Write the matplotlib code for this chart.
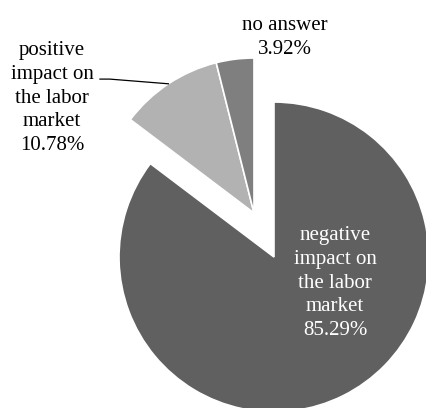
import numpy as np
import matplotlib
matplotlib.use('Agg')
import matplotlib.pyplot as plt

# Survey shares (percent), clockwise from 12 o'clock
categories = ['negative impact on\nthe labor\nmarket', 'positive\nimpact on\nthe labor\nmarket', 'no answer']
shares = [85.29, 10.78, 3.92]
colors = ['#606060', '#b2b2b2', '#7f7f7f']

plt.rcParams['font.family'] = ['Liberation Serif', 'DejaVu Serif']

fig = plt.figure(figsize=(4.26, 4.08), dpi=100)
ax = fig.add_axes([0, 0, 1, 1])

wedges, _ = ax.pie(shares, colors=colors, startangle=90, counterclock=False,
                   radius=1.0, wedgeprops=dict(edgecolor='white', linewidth=1.2))

# the two small slices are pulled out together
offset = np.array([-0.129, 0.284])
for w in wedges[1:]:
    w.set_center(tuple(offset))

ax.set_xlim(-1.768, 0.981)
ax.set_ylim(-0.974, 1.658)
ax.set_aspect('equal')
ax.axis('off')

fs = 15
ls = 1.35
ax.text(0.394, -0.168, 'negative\nimpact on\nthe labor\nmarket\n%.2f%%' % shares[0],
        ha='center', va='center', color='white', fontsize=fs, linespacing=ls)
ax.text(-1.432, 1.026, categories[1] + '\n%.2f%%' % shares[1],
        ha='center', va='center', color='black', fontsize=fs, linespacing=ls)
ax.text(0.071, 1.419, categories[2] + '\n%.2f%%' % shares[2],
        ha='center', va='center', color='black', fontsize=fs, linespacing=ls)

# leader line for the positive slice
w = wedges[1]
mid = np.deg2rad((w.theta1 + w.theta2) / 2)
tip = offset + np.array([np.cos(mid), np.sin(mid)]) * w.r
ax.plot([-1.123, -1.06, tip[0]], [1.148, 1.148, tip[1]], color='black', lw=0.9)

fig.savefig('out.png', dpi=100, facecolor='white')
